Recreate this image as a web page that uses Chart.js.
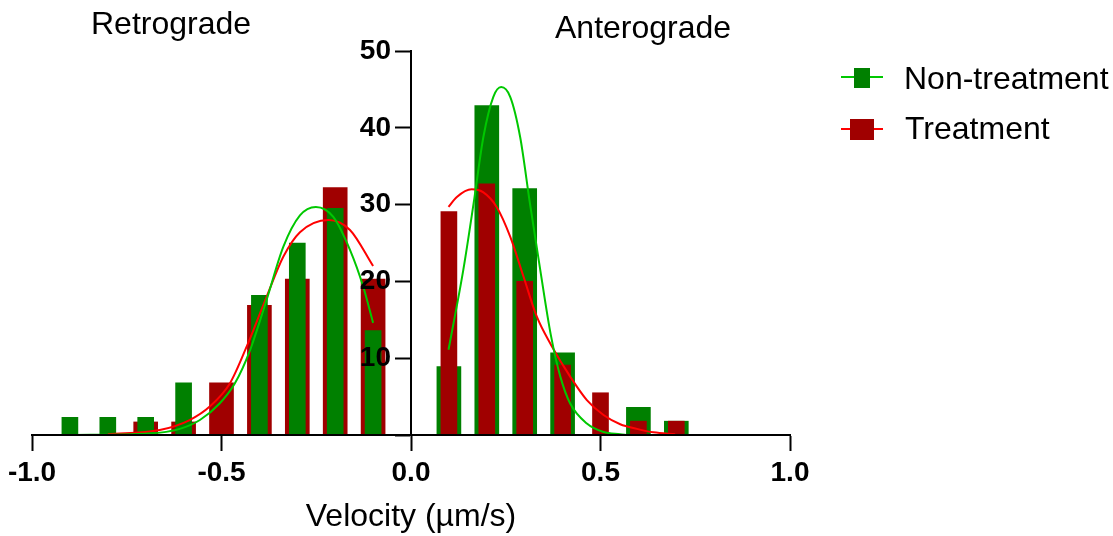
<!DOCTYPE html>
<html>
<head>
<meta charset="utf-8">
<script src="https://cdn.jsdelivr.net/npm/chart.js@4.4.0/dist/chart.umd.min.js"></script>
<style>
  body { margin: 0; background: #fff; }
  #wrap { position: relative; width: 1113px; height: 536px; font-family: 'Liberation Sans', Arial, sans-serif; }
  .lbl { position: absolute; font-size: 32px; line-height: 32px; color: #000; white-space: nowrap; }
  .key-line { position: absolute; height: 2px; }
  .key-box { position: absolute; }
</style>
</head>
<body>
<div id="wrap">
  <canvas id="grafico" width="1113" height="536"></canvas>
  <div class="lbl" style="left:91px; top:7px;">Retrograde</div>
  <div class="lbl" style="left:555px; top:11px;">Anterograde</div>

  <div class="key-line" style="left:841px; top:76px; width:42px; background:#00c800;"></div>
  <div class="key-box" style="left:854px; top:68px; width:16px; height:20px; background:#008000;"></div>
  <div class="lbl" style="left:904px; top:62px;">Non-treatment</div>

  <div class="key-line" style="left:841px; top:128px; width:42px; background:#ff0000;"></div>
  <div class="key-box" style="left:850px; top:119px; width:24px; height:21px; background:#a00000;"></div>
  <div class="lbl" style="left:905px; top:112px;">Treatment</div>
</div>
<script>
// bins (velocity, µm/s)
const retroBins = [-0.9, -0.8, -0.7, -0.6, -0.5, -0.4, -0.3, -0.2, -0.1];
const anteroBins = [0.1, 0.2, 0.3, 0.4, 0.5, 0.6, 0.7];

// frequency (%)
const retroNonTreat = [2.3, 2.3, 2.3, 6.8, 0, 18.2, 25.0, 29.5, 13.6];
const retroTreat = [0, 0, 1.7, 1.7, 6.8, 16.9, 20.3, 32.2, 20.3];
const anteroNonTreat = [8.9, 42.9, 32.1, 10.7, 0, 3.6, 1.8];
const anteroTreat = [29.1, 32.7, 20.0, 9.1, 5.5, 1.8, 1.8];

// gaussian fits, points
const fitRetroNonX = [-0.9, -0.69, -0.61, -0.557, -0.505, -0.465, -0.425, -0.381, -0.337, -0.293, -0.251, -0.205, -0.161, -0.126, -0.1];
const fitRetroNonY = [0, 0.2, 0.8, 1.95, 4.1, 6.7, 11.0, 17.6, 24.5, 28.6, 29.7, 28.4, 24.1, 19.3, 14.6];
const fitRetroTreatX = [-0.8, -0.663, -0.584, -0.531, -0.478, -0.432, -0.381, -0.337, -0.293, -0.218, -0.161, -0.1];
const fitRetroTreatY = [0.1, 0.65, 1.95, 3.7, 6.7, 11.7, 18.0, 23.2, 26.4, 28.0, 26.7, 22.0];
const fitAnteroNonX = [0.099, 0.138, 0.165, 0.191, 0.217, 0.238, 0.262, 0.288, 0.314, 0.341, 0.369, 0.394, 0.42, 0.464, 0.508, 0.552, 0.57];
const fitAnteroNonY = [11.1, 21.5, 30.1, 38.8, 44.0, 45.3, 44.0, 38.8, 30.1, 21.5, 13.0, 7.6, 4.1, 1.5, 0.4, 0.1, 0];
const fitAnteroTreatX = [0.099, 0.121, 0.16, 0.191, 0.226, 0.262, 0.297, 0.332, 0.37, 0.42, 0.464, 0.508, 0.552, 0.596, 0.64, 0.697];
const fitAnteroTreatY = [29.7, 31.0, 32.0, 31.6, 29.7, 25.8, 20.6, 15.4, 11.7, 7.6, 4.55, 2.6, 1.4, 0.8, 0.35, 0.1];

const xTicks = [-1.0, -0.5, 0.0, 0.5, 1.0];

const verde = '#008000';
const rojo = '#a00000';
const lineaVerde = '#00c800';
const lineaRojo = '#ff0000';

function puntos(xs, ys) {
    return xs.map((x, i) => ({ x: x, y: ys[i] }));
}

function barras(label, xs, ys, color, ancho, orden) {
    return {
        type: 'bar',
        label: label,
        data: puntos(xs, ys),
        backgroundColor: color,
        borderWidth: 0,
        barThickness: ancho,
        grouped: false,
        order: orden
    };
}

function curva(label, xs, ys, color) {
    return {
        type: 'line',
        label: label,
        data: puntos(xs, ys),
        borderColor: color,
        borderWidth: 2,
        pointRadius: 0,
        fill: false,
        cubicInterpolationMode: 'monotone',
        order: 0
    };
}

// move the y axis so it crosses the x axis at 0
const ejeEnCero = {
    id: 'ejeEnCero',
    afterLayout(chart) {
        const y = chart.scales.y;
        const x0 = chart.scales.x.getPixelForValue(0);
        y.left = x0 - 80;
        y.right = x0;
        y.width = 80;
    }
};

Chart.defaults.font.family = "'Liberation Sans', Arial, sans-serif";
Chart.defaults.color = '#000';

const ctx = document.getElementById('grafico').getContext('2d');
new Chart(ctx, {
    type: 'bar',
    data: {
        datasets: [
            curva('Non-treatment fit', fitRetroNonX, fitRetroNonY, lineaVerde),
            curva('Treatment fit', fitRetroTreatX, fitRetroTreatY, lineaRojo),
            curva('Non-treatment fit', fitAnteroNonX, fitAnteroNonY, lineaVerde),
            curva('Treatment fit', fitAnteroTreatX, fitAnteroTreatY, lineaRojo),
            barras('Non-treatment', retroBins, retroNonTreat, verde, 16, 1),
            barras('Treatment', retroBins, retroTreat, rojo, 24, 2),
            barras('Treatment', anteroBins, anteroTreat, rojo, 16, 1),
            barras('Non-treatment', anteroBins, anteroNonTreat, verde, 24, 2)
        ]
    },
    plugins: [ejeEnCero],
    options: {
        responsive: false,
        animation: false,
        devicePixelRatio: 1,
        layout: { padding: { left: 32, right: 323, top: 51, bottom: 0 } },
        plugins: { legend: { display: false }, tooltip: { enabled: false } },
        scales: {
            x: {
                type: 'linear',
                min: -1,
                max: 1,
                offset: false,
                afterFit: s => { s.height = 101; },
                afterBuildTicks: axis => { axis.ticks = xTicks.map(v => ({ value: v })); },
                ticks: {
                    font: { size: 28, weight: 'bold' },
                    padding: 5,
                    maxRotation: 0,
                    z: 1,
                    callback: v => v.toFixed(1)
                },
                grid: { drawOnChartArea: false, offset: false, tickLength: 16, tickWidth: 2, tickColor: '#000', z: 1 },
                border: { color: '#000', width: 2, z: 1 },
                title: {
                    display: true,
                    text: 'Velocity (µm/s)',
                    font: { size: 32 },
                    padding: { top: 0, bottom: 0 }
                }
            },
            y: {
                position: 'left',
                min: 0,
                max: 50,
                afterFit: s => { s.width = 0; },
                ticks: {
                    stepSize: 10,
                    font: { size: 28, weight: 'bold' },
                    padding: 4,
                    z: 1,
                    callback: v => (v === 0 ? '' : v)
                },
                grid: { drawOnChartArea: false, tickLength: 16, tickWidth: 2, tickColor: '#000', z: 1 },
                border: { color: '#000', width: 2, z: 1 }
            }
        }
    }
});
</script>
</body>
</html>
